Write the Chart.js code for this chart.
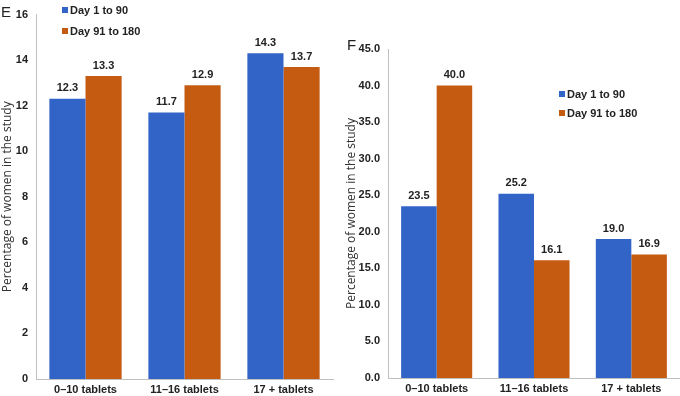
<!DOCTYPE html>
<html>
<head>
<meta charset="utf-8">
<script src="https://cdn.jsdelivr.net/npm/chart.js@4.4.1/dist/chart.umd.min.js"></script>
<style>
  body { margin: 0; background: #fff; }
  #wrap { position: relative; width: 680px; height: 396px; overflow: hidden; font-family: "Liberation Sans", Arial, sans-serif; }
  .box { position: absolute; top: 0; width: 340px; height: 396px; }
  .panel { position: absolute; font-size: 15px; color: #222; font-family: "Liberation Sans", Arial, sans-serif; }
  .leg { position: absolute; font-size: 11px; font-weight: bold; color: #222; white-space: nowrap; }
  .leg span { display: inline-block; width: 6px; height: 6px; margin-right: 2px; vertical-align: 1px; }
</style>
</head>
<body>
<div id="wrap">
  <div class="box" style="left:0"><canvas id="chartE"></canvas></div>
  <div class="box" style="left:340px"><canvas id="chartF"></canvas></div>
  <div class="panel" style="left:1px; top:3px">E</div>
  <div class="panel" style="left:347px; top:36px">F</div>
  <div class="leg" style="left:62px; top:4px"><span style="background:#3264c8"></span>Day 1 to 90</div>
  <div class="leg" style="left:62px; top:25px"><span style="background:#c55a11"></span>Day 91 to 180</div>
  <div class="leg" style="left:559px; top:88px"><span style="background:#3264c8"></span>Day 1 to 90</div>
  <div class="leg" style="left:559px; top:107px"><span style="background:#c55a11"></span>Day 91 to 180</div>
</div>
<script>
var categories = ['0\u201310 tablets', '11\u201316 tablets', '17 + tablets'];
var seriesNames = ['Day 1 to 90', 'Day 91 to 180'];
var early_E = [12.3, 11.7, 14.3];
var late_E = [13.3, 12.9, 13.7];
var early_F = [23.5, 25.2, 19.0];
var late_F = [40.0, 16.1, 16.9];
var colors = ['#3264c8', '#c55a11'];

// labels above each bar
var barLabels = {
    id: 'barLabels',
    afterDatasetsDraw: function (chart) {
        var ctx = chart.ctx;
        ctx.save();
        ctx.font = 'bold 11px "Liberation Sans", Arial, sans-serif';
        ctx.fillStyle = '#222';
        ctx.textAlign = 'center';
        ctx.textBaseline = 'bottom';
        chart.data.datasets.forEach(function (ds, i) {
            chart.getDatasetMeta(i).data.forEach(function (bar, j) {
                ctx.fillText(ds.data[j].toFixed(1), bar.x, bar.y - 5);
            });
        });
        ctx.restore();
    }
};

function makeChart(id, early, late, yMax, yStep, decimals, yWidth, pad, titlePad) {
    var ctx = document.getElementById(id).getContext('2d');
    return new Chart(ctx, {
        type: 'bar',
        data: {
            labels: categories,
            datasets: [
                { label: seriesNames[0], data: early, backgroundColor: colors[0] },
                { label: seriesNames[1], data: late, backgroundColor: colors[1] }
            ]
        },
        options: {
            responsive: false,
            animation: false,
            layout: { padding: pad },
            categoryPercentage: 0.73,
            barPercentage: 1.0,
            plugins: { legend: { display: false }, tooltip: { enabled: false } },
            scales: {
                x: {
                    grid: { display: false, drawTicks: false },
                    border: { color: '#bfbfbf' },
                    ticks: { color: '#222', font: { family: '"Liberation Sans", Arial', size: 11, weight: 'bold' }, padding: 4, maxRotation: 0 },
                    afterFit: function (s) { s.height = 16; }
                },
                y: {
                    min: 0,
                    max: yMax,
                    grid: { display: false, drawTicks: false },
                    border: { color: '#bfbfbf' },
                    ticks: {
                        stepSize: yStep,
                        color: '#222',
                        padding: 8,
                        font: { family: '"Liberation Sans", Arial', size: 11, weight: 'bold' },
                        callback: function (v) { return v.toFixed(decimals); }
                    },
                    title: {
                        display: true,
                        text: 'Percentage of women in the study',
                        color: '#333',
                        font: { family: '"Open Sans", sans-serif', size: 12 },
                        padding: titlePad
                    },
                    afterFit: function (s) { s.width = yWidth; }
                }
            }
        },
        plugins: [barLabels]
    });
}

function sizeCanvas(id) {
    var c = document.getElementById(id);
    c.width = 340; c.height = 396;
    c.style.width = '340px'; c.style.height = '396px';
}
sizeCanvas('chartE');
sizeCanvas('chartF');

makeChart('chartE', early_E, late_E, 16, 2, 0, 36, { top: 12, right: 7, left: 0, bottom: 1 }, { top: 0, bottom: 0 });
makeChart('chartF', early_F, late_F, 45, 5, 1, 48, { top: 49, right: 0, left: 0, bottom: 2 }, { top: 4, bottom: 0 });
</script>
</body>
</html>
